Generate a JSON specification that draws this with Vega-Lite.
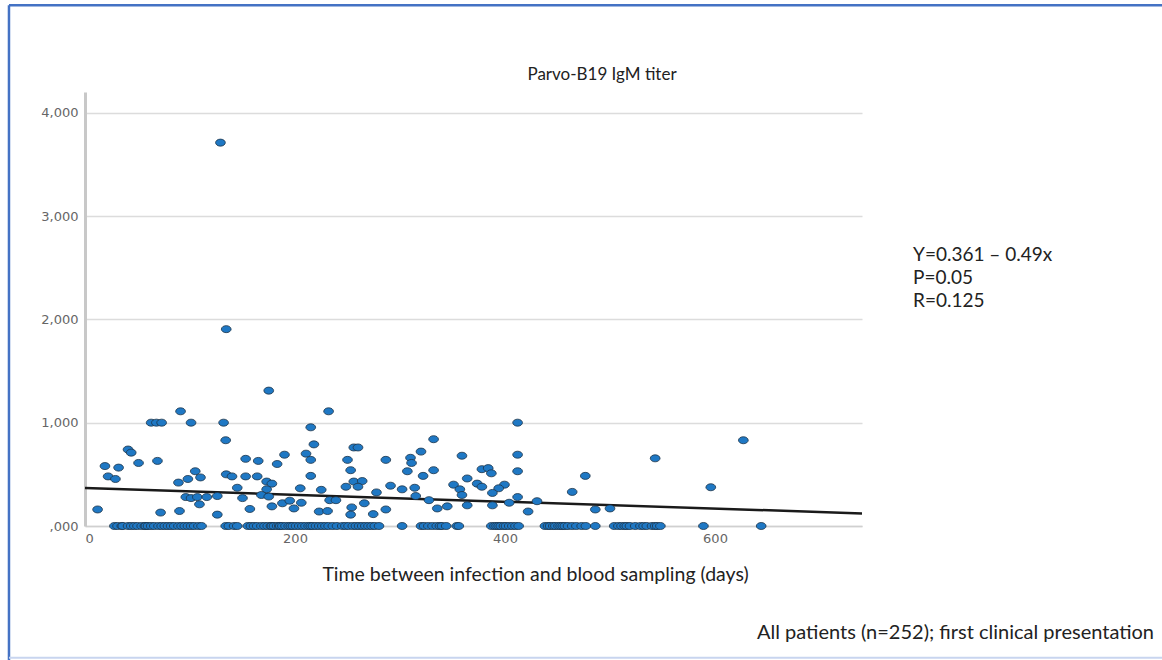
{
  "$schema": "https://vega.github.io/schema/vega-lite/v6.json",
  "width": 777,
  "height": 434,
  "autosize": {"type": "none"},
  "padding": {"left": 85, "top": 92, "right": 300, "bottom": 134},
  "background": "white",
  "config": {"view": {"stroke": null}, "font": "Lato"},
  "datasets": {
    "pts": [
      {"day":175,"titer":1.31},{"day":91,"titer":1.11},{"day":63,"titer":1.0},{"day":68,"titer":1.0},{"day":73,"titer":1.0},
      {"day":101,"titer":1.0},{"day":132,"titer":1.0},{"day":134,"titer":0.83},{"day":41,"titer":0.74},{"day":44,"titer":0.71},
      {"day":69,"titer":0.63},{"day":19,"titer":0.58},{"day":32,"titer":0.565},{"day":51,"titer":0.61},{"day":22,"titer":0.48},
      {"day":29,"titer":0.455},{"day":105,"titer":0.53},{"day":98,"titer":0.455},{"day":110,"titer":0.47},{"day":89,"titer":0.42},
      {"day":134.5,"titer":0.5},{"day":140,"titer":0.48},{"day":153,"titer":0.65},{"day":165,"titer":0.63},{"day":153,"titer":0.48},
      {"day":164,"titer":0.48},{"day":145,"titer":0.37},{"day":173,"titer":0.43},{"day":173,"titer":0.355},{"day":168,"titer":0.3},
      {"day":175,"titer":0.285},{"day":178,"titer":0.41},{"day":96,"titer":0.28},{"day":101,"titer":0.27},{"day":107,"titer":0.28},
      {"day":116,"titer":0.28},{"day":126,"titer":0.29},{"day":109,"titer":0.21},{"day":150,"titer":0.27},{"day":157,"titer":0.165},
      {"day":178,"titer":0.19},{"day":12,"titer":0.16},{"day":72,"titer":0.13},{"day":90,"titer":0.145},{"day":126,"titer":0.11},
      {"day":129,"titer":3.71},{"day":134.5,"titer":1.905},
      {"day":232,"titer":1.11},{"day":215,"titer":0.955},{"day":218,"titer":0.79},{"day":256,"titer":0.76},{"day":260,"titer":0.76},
      {"day":332,"titer":0.84},{"day":190,"titer":0.69},{"day":210.5,"titer":0.7},{"day":215,"titer":0.64},{"day":183,"titer":0.6},
      {"day":250,"titer":0.64},{"day":286.5,"titer":0.64},{"day":310,"titer":0.66},{"day":311,"titer":0.61},{"day":320,"titer":0.72},
      {"day":359,"titer":0.68},{"day":253,"titer":0.54},{"day":307,"titer":0.53},{"day":332,"titer":0.54},{"day":215,"titer":0.485},
      {"day":322,"titer":0.485},{"day":364,"titer":0.46},{"day":256,"titer":0.43},{"day":264,"titer":0.435},{"day":260,"titer":0.38},
      {"day":248.5,"titer":0.38},{"day":205,"titer":0.365},{"day":225,"titer":0.35},{"day":291,"titer":0.39},{"day":302,"titer":0.355},
      {"day":314,"titer":0.37},{"day":277.6,"titer":0.325},{"day":351,"titer":0.4},{"day":357,"titer":0.355},{"day":359,"titer":0.3},
      {"day":188,"titer":0.22},{"day":195,"titer":0.245},{"day":206,"titer":0.225},{"day":199,"titer":0.17},{"day":233,"titer":0.25},
      {"day":239,"titer":0.25},{"day":223,"titer":0.14},{"day":231,"titer":0.145},{"day":254,"titer":0.18},{"day":253,"titer":0.11},
      {"day":266,"titer":0.22},{"day":274.5,"titer":0.115},{"day":286.5,"titer":0.16},{"day":315,"titer":0.29},{"day":327.6,"titer":0.25},
      {"day":335.5,"titer":0.17},{"day":345,"titer":0.19},{"day":364,"titer":0.2},
      {"day":412,"titer":1.0},{"day":412,"titer":0.69},{"day":412,"titer":0.53},{"day":378,"titer":0.55},{"day":384,"titer":0.56},
      {"day":387,"titer":0.51},{"day":373.5,"titer":0.41},{"day":378,"titer":0.38},{"day":399.5,"titer":0.4},{"day":394,"titer":0.365},
      {"day":388,"titer":0.32},{"day":476.5,"titer":0.485},{"day":464,"titer":0.33},{"day":543,"titer":0.655},{"day":412,"titer":0.28},
      {"day":430.5,"titer":0.24},{"day":404,"titer":0.225},{"day":388,"titer":0.2},{"day":422,"titer":0.14},{"day":486,"titer":0.16},
      {"day":500,"titer":0.17},{"day":627,"titer":0.83},{"day":596,"titer":0.375},
      {"day":28,"titer":0},{"day":31,"titer":0},{"day":35,"titer":0},{"day":36,"titer":0},{"day":41,"titer":0},{"day":44,"titer":0},
      {"day":47,"titer":0},{"day":50,"titer":0},{"day":54,"titer":0},{"day":57,"titer":0},{"day":58,"titer":0},{"day":60,"titer":0},
      {"day":63,"titer":0},{"day":66,"titer":0},{"day":70,"titer":0},{"day":73,"titer":0},{"day":76,"titer":0},{"day":79,"titer":0},
      {"day":82,"titer":0},{"day":85,"titer":0},{"day":89,"titer":0},{"day":92,"titer":0},{"day":95,"titer":0},{"day":98,"titer":0},
      {"day":101,"titer":0},{"day":104,"titer":0},{"day":108,"titer":0},{"day":111,"titer":0},{"day":134,"titer":0},{"day":137,"titer":0},
      {"day":142,"titer":0},{"day":145,"titer":0},{"day":155,"titer":0},{"day":158,"titer":0},{"day":161,"titer":0},{"day":164,"titer":0},
      {"day":168,"titer":0},{"day":171,"titer":0},{"day":174,"titer":0},{"day":177,"titer":0},{"day":178,"titer":0},{"day":180,"titer":0},
      {"day":183,"titer":0},{"day":185,"titer":0},{"day":186,"titer":0},{"day":188,"titer":0},{"day":191,"titer":0},{"day":194,"titer":0},
      {"day":196,"titer":0},{"day":198,"titer":0},{"day":201,"titer":0},{"day":204,"titer":0},{"day":207,"titer":0},{"day":210,"titer":0},
      {"day":213,"titer":0},{"day":215,"titer":0},{"day":217,"titer":0},{"day":220,"titer":0},{"day":223,"titer":0},{"day":226,"titer":0},
      {"day":229,"titer":0},{"day":232,"titer":0},{"day":236,"titer":0},{"day":240,"titer":0},{"day":245,"titer":0},{"day":248,"titer":0},
      {"day":251,"titer":0},{"day":255,"titer":0},{"day":258,"titer":0},{"day":261,"titer":0},{"day":264,"titer":0},{"day":267,"titer":0},
      {"day":270,"titer":0},{"day":273,"titer":0},{"day":276,"titer":0},{"day":280,"titer":0},{"day":302,"titer":0},{"day":320,"titer":0},
      {"day":323,"titer":0},{"day":327,"titer":0},{"day":331,"titer":0},{"day":335,"titer":0},{"day":338,"titer":0},{"day":340,"titer":0},
      {"day":344,"titer":0},{"day":354,"titer":0},
      {"day":356,"titer":0},{"day":387,"titer":0},{"day":390,"titer":0},{"day":392,"titer":0},{"day":394,"titer":0},{"day":396,"titer":0},
      {"day":399,"titer":0},{"day":401,"titer":0},{"day":404,"titer":0},{"day":407,"titer":0},{"day":410,"titer":0},{"day":413,"titer":0},
      {"day":438,"titer":0},{"day":441,"titer":0},{"day":443,"titer":0},{"day":446,"titer":0},{"day":448,"titer":0},{"day":451,"titer":0},
      {"day":453,"titer":0},{"day":455,"titer":0},{"day":457,"titer":0},{"day":460,"titer":0},{"day":464,"titer":0},{"day":468,"titer":0},
      {"day":473,"titer":0},{"day":477,"titer":0},{"day":486,"titer":0},
      {"day":504,"titer":0},{"day":508,"titer":0},{"day":511,"titer":0},{"day":514,"titer":0},{"day":516,"titer":0},{"day":519,"titer":0},
      {"day":524,"titer":0},{"day":529,"titer":0},{"day":532,"titer":0},{"day":535,"titer":0},{"day":540,"titer":0},{"day":543,"titer":0},
      {"day":545,"titer":0},{"day":548,"titer":0},{"day":589,"titer":0},{"day":644,"titer":0}
    ],
    "fit": [{"day": 0, "titer": 0.368}, {"day": 740, "titer": 0.122}],
    "heading": [{"note": "Parvo-B19 IgM titer"}],
    "stats": [{"note": "Y=0.361 – 0.49x\nP=0.05\nR=0.125"}],
    "foot": [{"note": "All patients (n=252); first clinical presentation"}],
    "frame": [{"part": "border"}]
  },
  "layer": [
    {
      "data": {"name": "frame"},
      "mark": {"type": "rule", "color": "#4472c4", "strokeWidth": 2.5, "clip": false},
      "encoding": {
        "x": {"datum": -72.4, "type": "quantitative"},
        "x2": {"datum": 1100},
        "y": {"datum": 5.04, "type": "quantitative"}
      }
    },
    {
      "data": {"name": "frame"},
      "mark": {"type": "rule", "color": "#4472c4", "strokeWidth": 2.5, "clip": false},
      "encoding": {
        "x": {"datum": -72.4, "type": "quantitative"},
        "y": {"datum": 5.04, "type": "quantitative"},
        "y2": {"datum": -1.3}
      }
    },
    {
      "data": {"name": "frame"},
      "mark": {"type": "rule", "color": "#c8d5ef", "strokeWidth": 2, "clip": false},
      "encoding": {
        "x": {"datum": -72.4, "type": "quantitative"},
        "x2": {"datum": 1100},
        "y": {"datum": -1.275, "type": "quantitative"}
      }
    },
    {
      "data": {"name": "fit"},
      "mark": {"type": "line", "color": "#1a1a1a", "strokeWidth": 2.5},
      "encoding": {
        "x": {
          "field": "day", "type": "quantitative",
          "scale": {"domain": [0, 740], "nice": false, "zero": false},
          "axis": {
            "values": [0, 200, 400, 600],
            "title": "Time between infection and blood sampling (days)",
            "grid": false, "ticks": false,
            "domainColor": "#d0d0d0", "domainWidth": 1.5,
            "labelFont": "DejaVu Sans", "labelFontSize": 13, "labelColor": "#666666", "labelPadding": 6,
            "titleFont": "Lato", "titleFontSize": 19.5, "titleFontWeight": "normal", "titleColor": "#222222",
            "titleX": 450, "titleY": 48, "titleBaseline": "middle"
          }
        },
        "y": {
          "field": "titer", "type": "quantitative",
          "scale": {"domain": [0, 4.2], "nice": false},
          "axis": {
            "values": [0, 1, 2, 3, 4],
            "title": null,
            "grid": true, "gridColor": "#dcdcdc", "gridWidth": 1.5,
            "ticks": false,
            "domainColor": "#c8c8c8", "domainWidth": 3,
            "labelExpr": "datum.value == 0 ? ',000' : replace(format(datum.value, '.3f'), '.', ',')",
            "labelFont": "DejaVu Sans", "labelFontSize": 13, "labelColor": "#666666", "labelPadding": 7
          }
        }
      }
    },
    {
      "data": {"name": "pts"},
      "mark": {"type": "point", "shape": "M-1,0A1,0.72,0,1,0,1,0A1,0.72,0,1,0,-1,0Z", "filled": true, "size": 95, "fill": "#1f78c4", "stroke": "#1d3347", "strokeWidth": 0.8, "opacity": 1},
      "encoding": {
        "x": {"field": "day", "type": "quantitative"},
        "y": {"field": "titer", "type": "quantitative"}
      }
    },
    {
      "data": {"name": "heading"},
      "mark": {"type": "text", "align": "center", "baseline": "middle", "fontSize": 17, "font": "Lato", "color": "#222222", "clip": false},
      "encoding": {
        "x": {"datum": 492.4, "type": "quantitative"},
        "y": {"datum": 4.365, "type": "quantitative"},
        "text": {"field": "note", "type": "nominal"}
      }
    },
    {
      "data": {"name": "stats"},
      "mark": {"type": "text", "align": "left", "baseline": "middle", "fontSize": 19, "font": "Lato", "color": "#222222", "lineBreak": "\n", "lineHeight": 23, "clip": false},
      "encoding": {
        "x": {"datum": 788.6, "type": "quantitative"},
        "y": {"datum": 2.623, "type": "quantitative"},
        "text": {"field": "note", "type": "nominal"}
      }
    },
    {
      "data": {"name": "foot"},
      "mark": {"type": "text", "align": "left", "baseline": "middle", "fontSize": 20, "font": "Lato", "color": "#222222", "clip": false},
      "encoding": {
        "x": {"datum": 640, "type": "quantitative"},
        "y": {"datum": -1.036, "type": "quantitative"},
        "text": {"field": "note", "type": "nominal"}
      }
    }
  ]
}
